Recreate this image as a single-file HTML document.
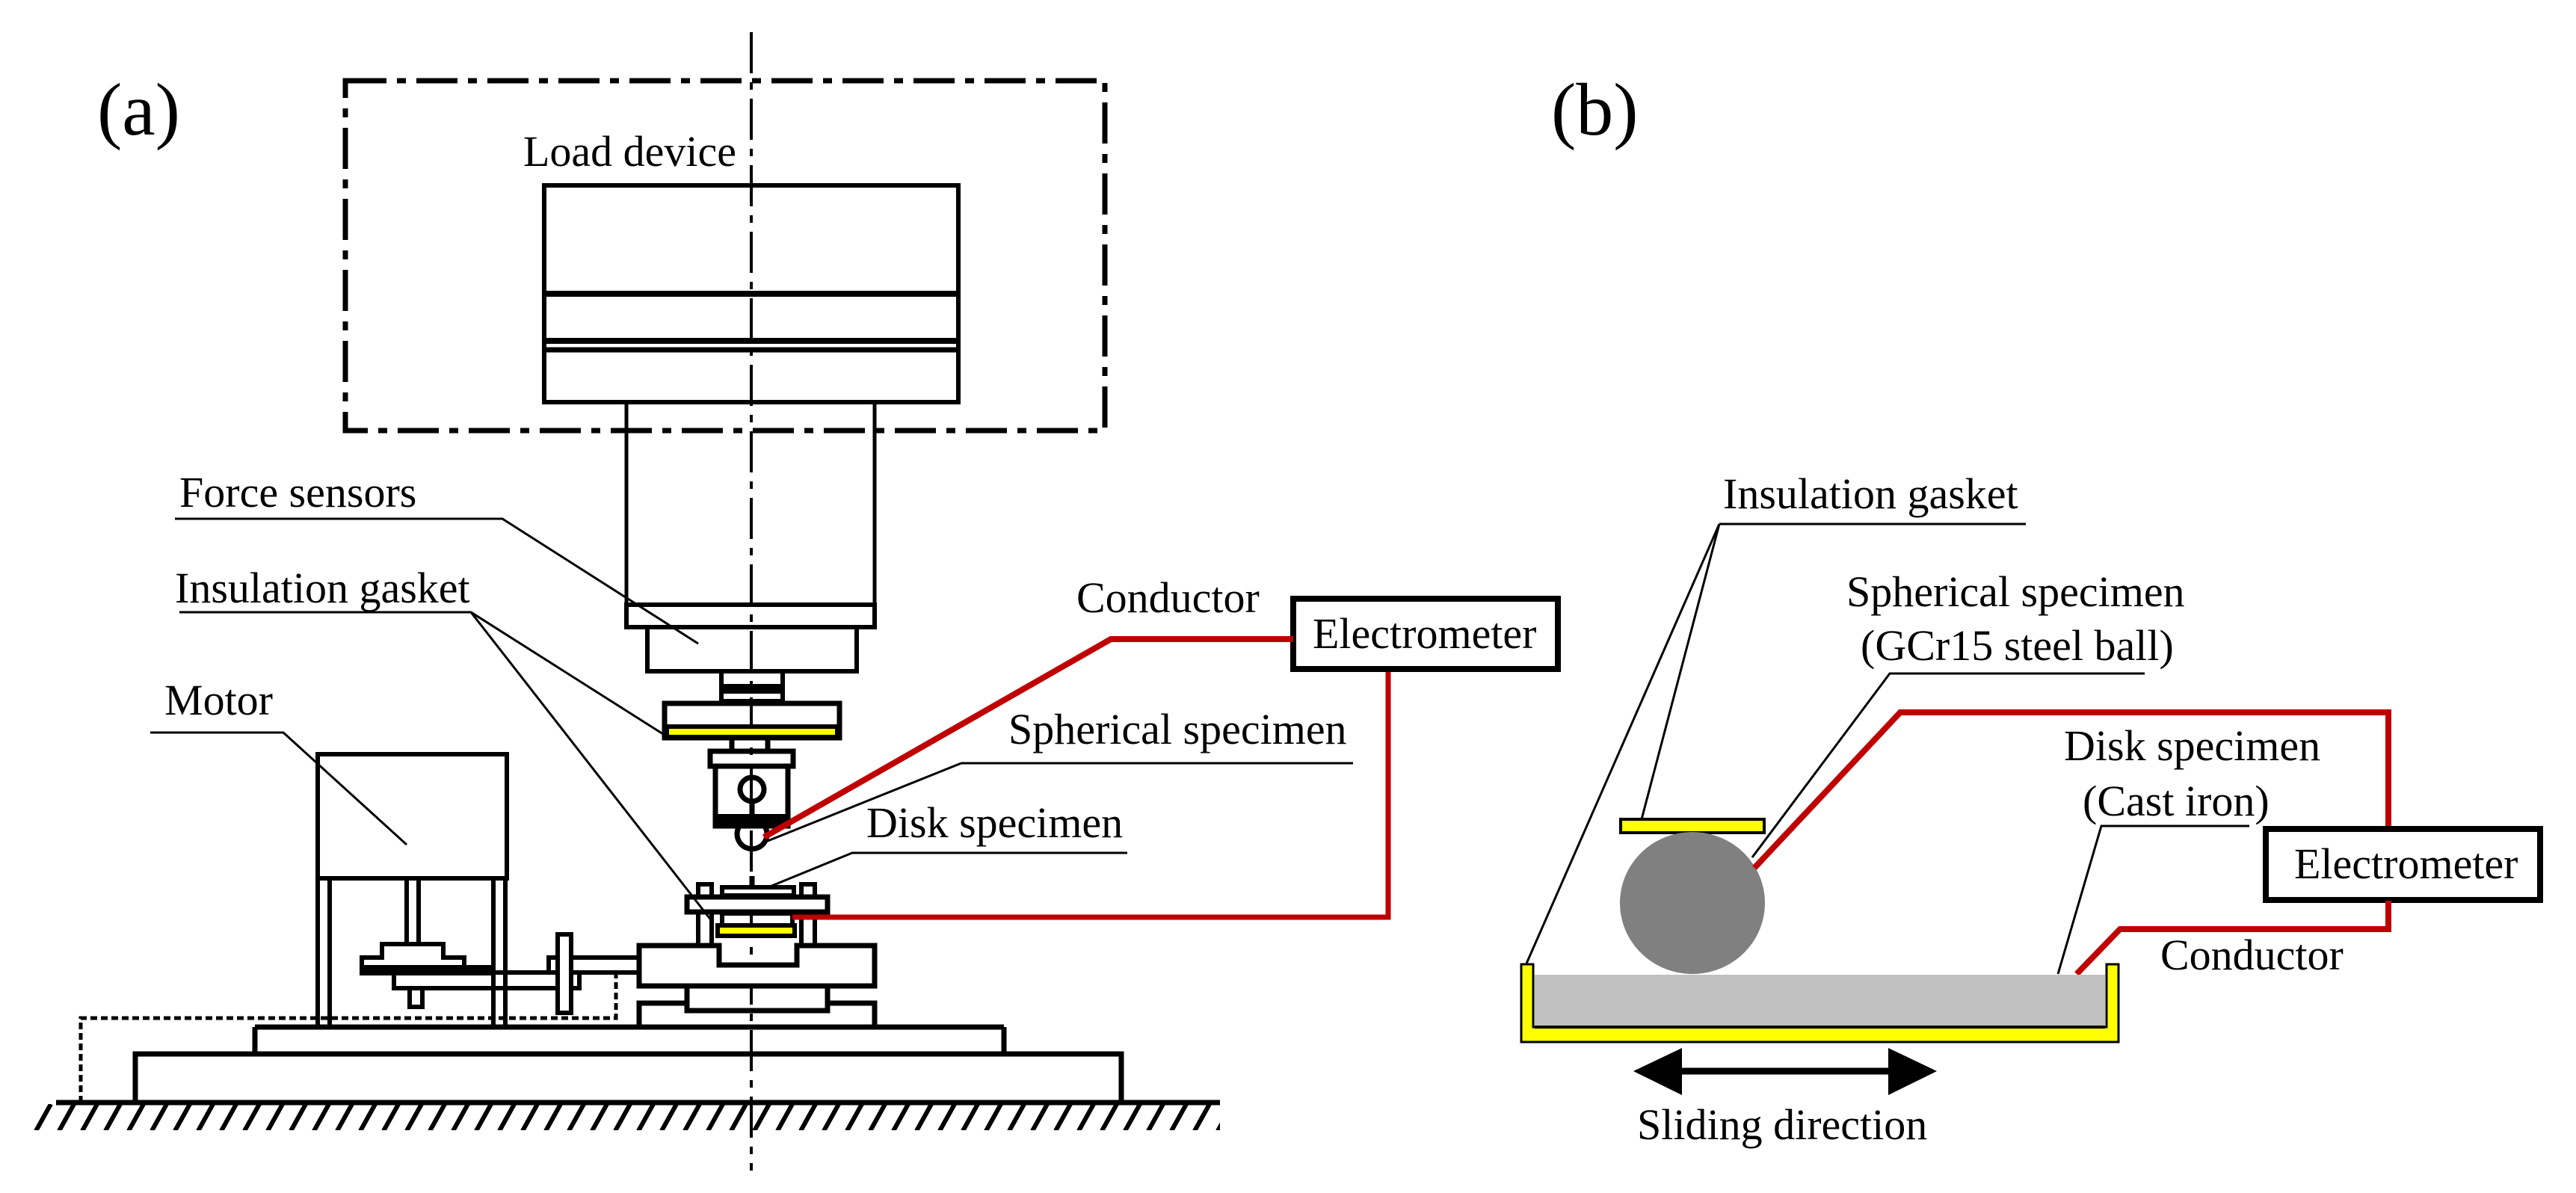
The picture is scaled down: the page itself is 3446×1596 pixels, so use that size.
<!DOCTYPE html>
<html><head><meta charset="utf-8"><style>
html,body{margin:0;padding:0;background:#fff}
svg{display:block}
text{font-family:"Liberation Serif",serif;fill:#000}
</style></head><body>
<svg width="3446" height="1596" viewBox="0 0 3446 1596" xmlns="http://www.w3.org/2000/svg">
<defs>
<pattern id="hatch" x="75" y="1475" width="31" height="40" patternUnits="userSpaceOnUse">
<line x1="4" y1="38" x2="24" y2="2" stroke="#000" stroke-width="6"/>
</pattern>
</defs>
<rect width="3446" height="1596" fill="#fff"/>

<!-- (a) -->
<text x="130" y="180" font-size="100">(a)</text>
<!-- dash-dot box -->
<rect x="462" y="108" width="1016" height="468" fill="none" stroke="#000" stroke-width="7" stroke-dasharray="55,14,12,14"/>
<!-- center line -->
<line x1="1005" y1="43" x2="1005" y2="1566" stroke="#000" stroke-width="4" stroke-dasharray="55,12,10,12"/>

<text x="700" y="222" font-size="58">Load device</text>
<g fill="none" stroke="#000">
<rect x="728" y="248" width="554" height="290" stroke-width="6"/>
<line x1="728" y1="393" x2="1282" y2="393" stroke-width="8"/>
<line x1="728" y1="456" x2="1282" y2="456" stroke-width="8"/>
<line x1="728" y1="468" x2="1282" y2="468" stroke-width="7"/>
<line x1="838" y1="538" x2="838" y2="839" stroke-width="5"/>
<line x1="1170" y1="538" x2="1170" y2="839" stroke-width="5"/>
<line x1="838" y1="809" x2="1170" y2="809" stroke-width="5"/>
<rect x="838" y="809" width="332" height="30" stroke-width="6"/>
<rect x="866" y="839" width="280" height="59" stroke-width="6"/>
<!-- shaft -->
<rect x="965" y="898" width="82" height="40" stroke-width="6"/>
<rect x="965" y="915" width="82" height="13" fill="#000" stroke-width="0"/>
<!-- gasket holder -->
<rect x="889" y="941" width="234" height="46" stroke-width="7"/>
<rect x="892" y="972" width="228" height="14" fill="#ff0" stroke-width="6"/>
<line x1="979" y1="990" x2="979" y2="1003" stroke-width="7"/>
<line x1="1027" y1="990" x2="1027" y2="1003" stroke-width="7"/>
<rect x="950" y="1005" width="111" height="20" stroke-width="7"/>
<rect x="957" y="1025" width="97" height="80" stroke-width="7"/>
<rect x="957" y="1089" width="97" height="18" fill="#000" stroke-width="0"/>
<circle cx="1006" cy="1056" r="16" stroke-width="7"/>
<line x1="1006" y1="1072" x2="1006" y2="1089" stroke-width="7"/>
<path d="M988 1107 A20 20 0 1 0 1024 1107" stroke-width="7"/>
<!-- disk assembly -->
<rect x="934" y="1183" width="18" height="82" stroke-width="6"/>
<rect x="1072" y="1183" width="18" height="82" stroke-width="6"/>
<rect x="966" y="1187" width="96" height="11" stroke-width="6"/>
<line x1="1006" y1="1172" x2="1006" y2="1187" stroke-width="7"/>
<rect x="919" y="1200" width="188" height="20" fill="#fff" stroke-width="7"/>
<rect x="966" y="1222" width="94" height="16" stroke-width="6"/>
<rect x="960" y="1238" width="103" height="14" fill="#ff0" stroke-width="6"/>
<path d="M855 1319 V1265 H962 V1291 H1066 V1265 H1170 V1319 Z" fill="#fff" stroke-width="7"/>
<rect x="919" y="1319" width="188" height="33" stroke-width="7"/>
<path d="M855 1373 V1342 H919 M1107 1342 H1170 V1373" stroke-width="7"/>
<!-- base plates -->
<path d="M341 1374 H1343 M341 1374 V1410 M1343 1374 V1410" stroke-width="7"/>
<rect x="181" y="1410" width="1319" height="65" stroke-width="7"/>
<line x1="75" y1="1475" x2="1632" y2="1475" stroke-width="7"/>
</g>
<rect x="45" y="1477" width="1587" height="35" fill="url(#hatch)"/>
<!-- dotted -->
<path d="M108 1475 V1362 H824 V1298" fill="none" stroke="#000" stroke-width="5" stroke-dasharray="9,5"/>
<!-- motor -->
<g fill="none" stroke="#000" stroke-width="6">
<rect x="425" y="1009" width="253" height="166"/>
<line x1="425" y1="1175" x2="425" y2="1373"/>
<line x1="441" y1="1175" x2="441" y2="1373"/>
<line x1="660" y1="1175" x2="660" y2="1373"/>
<line x1="676" y1="1175" x2="676" y2="1373"/>
<line x1="544" y1="1175" x2="544" y2="1263"/>
<line x1="560" y1="1175" x2="560" y2="1263"/>
<path d="M484 1301 V1281 H511 V1263 H593 V1281 H621 V1301 Z"/>
<rect x="484" y="1294" width="176" height="8" fill="#000"/>
<rect x="527" y="1301" width="248" height="21"/>
<line x1="676" y1="1301" x2="855" y2="1301"/>
<rect x="548" y="1322" width="17" height="25"/>
<rect x="734" y="1281" width="121" height="20"/>
<rect x="746" y="1250" width="18" height="105" fill="#fff"/>
</g>
<text x="220" y="956" font-size="58">Motor</text>
<polyline points="201,980 379,980 544,1130" fill="none" stroke="#000" stroke-width="3"/>

<text x="240" y="678" font-size="58">Force sensors</text>
<polyline points="234,694 672,694 934,861" fill="none" stroke="#000" stroke-width="3"/>
<text x="234" y="806" font-size="58">Insulation gasket</text>
<polyline points="240,819 630,819 887,982" fill="none" stroke="#000" stroke-width="3"/>
<line x1="630" y1="819" x2="952" y2="1232" stroke="#000" stroke-width="3"/>

<text x="1440" y="819" font-size="58">Conductor</text>
<text x="1349" y="995" font-size="58">Spherical specimen</text>
<polyline points="1022,1127 1286,1021 1810,1021" fill="none" stroke="#000" stroke-width="3"/>
<text x="1159" y="1120" font-size="58">Disk specimen</text>
<polyline points="1030,1186 1140,1141 1508,1141" fill="none" stroke="#000" stroke-width="3"/>

<rect x="1730" y="801" width="354" height="94" fill="#fff" stroke="#000" stroke-width="8"/>
<text x="1756" y="867" font-size="58">Electrometer</text>
<polyline points="1022,1120 1486,855 1730,855" fill="none" stroke="#c00000" stroke-width="8"/>
<polyline points="1060,1227 1857,1227 1857,899" fill="none" stroke="#c00000" stroke-width="7"/>

<!-- (b) -->
<text x="2075" y="180" font-size="100">(b)</text>
<text x="2305" y="680" font-size="58">Insulation gasket</text>
<polyline points="2300,701 2710,701" fill="none" stroke="#000" stroke-width="3"/>
<line x1="2300" y1="701" x2="2042" y2="1289" stroke="#000" stroke-width="3"/>
<line x1="2300" y1="701" x2="2196" y2="1096" stroke="#000" stroke-width="3"/>
<text x="2470" y="811" font-size="58">Spherical specimen</text>
<text x="2489" y="883" font-size="58">(GCr15 steel ball)</text>
<polyline points="2344,1147 2528,901 2869,901" fill="none" stroke="#000" stroke-width="3"/>
<rect x="2168" y="1096" width="192" height="18" fill="#ff0" stroke="#000" stroke-width="4"/>
<ellipse cx="2264" cy="1208" rx="97" ry="95" fill="#808080"/>
<polyline points="2347,1161 2542,953 3195,953 3195,1108" fill="none" stroke="#c00000" stroke-width="8"/>
<rect x="3031" y="1109" width="367" height="95" fill="#fff" stroke="#000" stroke-width="8"/>
<text x="3069" y="1175" font-size="58">Electrometer</text>
<polyline points="3195,1205 3195,1243 2836,1243 2778,1303" fill="none" stroke="#c00000" stroke-width="8"/>
<text x="2761" y="1017" font-size="58">Disk specimen</text>
<text x="2786" y="1091" font-size="58">(Cast iron)</text>
<polyline points="2753,1303 2811,1105 3009,1105" fill="none" stroke="#000" stroke-width="3"/>
<text x="2890" y="1297" font-size="58">Conductor</text>
<!-- tray -->
<path d="M2035 1290 H2051 V1374 H2818 V1290 H2834 V1394 H2035 Z" fill="#ff0" stroke="#000" stroke-width="3"/>
<rect x="2053" y="1304" width="763" height="69" fill="#c0c0c0"/>
<line x1="2053" y1="1374" x2="2816" y2="1374" stroke="#000" stroke-width="4"/>
<!-- arrow -->
<line x1="2240" y1="1433" x2="2540" y2="1433" stroke="#000" stroke-width="9"/>
<polygon points="2185,1433 2250,1402 2250,1465" fill="#000"/>
<polygon points="2591,1433 2526,1402 2526,1465" fill="#000"/>
<text x="2190" y="1524" font-size="58">Sliding direction</text>
</svg>
</body></html>
